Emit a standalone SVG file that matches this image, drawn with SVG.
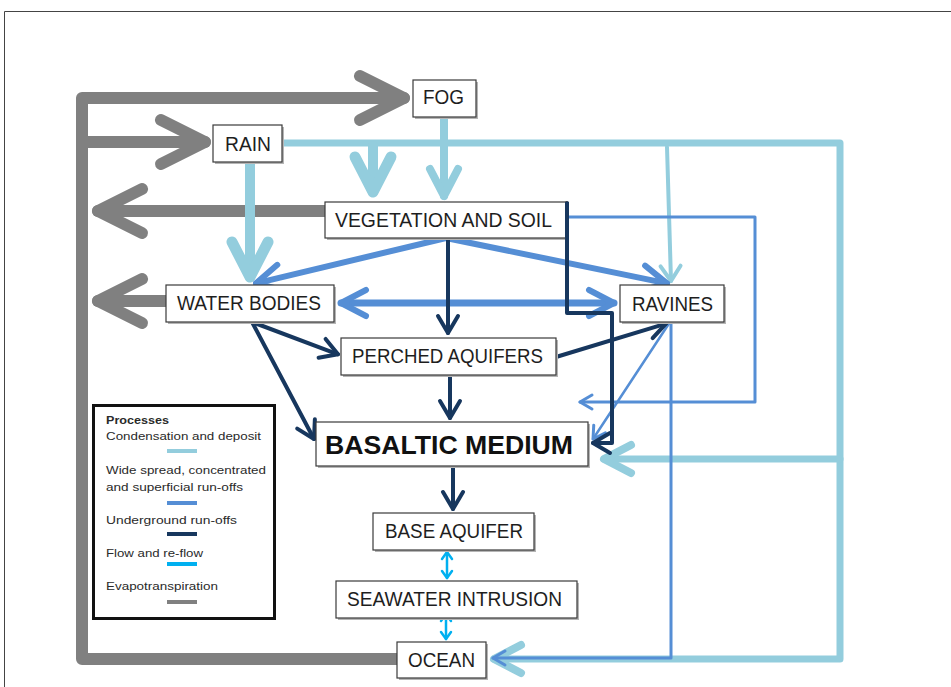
<svg xmlns="http://www.w3.org/2000/svg" width="951" height="687" viewBox="0 0 951 687">
<style>
.box{fill:#fff;stroke:#3a3a3a;stroke-width:1.2}
.sh{fill:#b5b5b5}
.lbl{font-family:"Liberation Sans Narrow","Liberation Sans",Arial,sans-serif;font-size:20px;fill:#1e1e1e}
.big{font-family:"Liberation Sans",Arial,sans-serif;font-size:26px;font-weight:bold;fill:#111}
.leg{font-family:"Liberation Sans Narrow","Liberation Sans",Arial,sans-serif;font-size:11px;fill:#2a2a2a}
.c{fill:none;stroke-linecap:round;stroke-linejoin:round}
.gray{stroke:#808080;stroke-width:12}
.lb{stroke:#93CDDD}
.mb{stroke:#558ED5}
.nv{stroke:#17375E;stroke-width:4}
.cy{stroke:#00B0F0;stroke-width:2.5}
</style>
<defs>
<marker id="mg" markerUnits="userSpaceOnUse" viewBox="-60 -30 70 60" markerWidth="70" markerHeight="60" refX="0" refY="0" orient="auto" overflow="visible"><path d="M-44,-22 L0,0 L-44,22" fill="none" stroke="#808080" stroke-width="12" stroke-linecap="round" stroke-linejoin="round"/></marker>
<marker id="mlb1" markerUnits="userSpaceOnUse" viewBox="-50 -25 60 50" markerWidth="60" markerHeight="50" refX="0" refY="0" orient="auto" overflow="visible"><path d="M-35,-18 L0,0 L-35,18" fill="none" stroke="#93CDDD" stroke-width="11" stroke-linecap="round" stroke-linejoin="round"/></marker>
<marker id="mlb2" markerUnits="userSpaceOnUse" viewBox="-40 -20 50 40" markerWidth="50" markerHeight="40" refX="0" refY="0" orient="auto" overflow="visible"><path d="M-27,-14 L0,0 L-27,14" fill="none" stroke="#93CDDD" stroke-width="8" stroke-linecap="round" stroke-linejoin="round"/></marker>
<marker id="mlb3" markerUnits="userSpaceOnUse" viewBox="-25 -15 30 30" markerWidth="30" markerHeight="30" refX="0" refY="0" orient="auto" overflow="visible"><path d="M-15,-10 L0,0 L-15,10" fill="none" stroke="#93CDDD" stroke-width="4" stroke-linecap="round" stroke-linejoin="round"/></marker>
<marker id="mmb" markerUnits="userSpaceOnUse" viewBox="-35 -20 40 40" markerWidth="40" markerHeight="40" refX="0" refY="0" orient="auto-start-reverse" overflow="visible"><path d="M-25,-13 L0,0 L-25,13" fill="none" stroke="#558ED5" stroke-width="6" stroke-linecap="round" stroke-linejoin="round"/></marker>
<marker id="mmb2" markerUnits="userSpaceOnUse" viewBox="-20 -10 25 20" markerWidth="25" markerHeight="20" refX="0" refY="0" orient="auto" overflow="visible"><path d="M-12,-7 L0,0 L-12,7" fill="none" stroke="#558ED5" stroke-width="3" stroke-linecap="round" stroke-linejoin="round"/></marker>
<marker id="mnv" markerUnits="userSpaceOnUse" viewBox="-25 -15 30 30" markerWidth="30" markerHeight="30" refX="0" refY="0" orient="auto" overflow="visible"><path d="M-17,-10 L0,0 L-17,10" fill="none" stroke="#17375E" stroke-width="4" stroke-linecap="round" stroke-linejoin="round"/></marker>
<marker id="mcy" markerUnits="userSpaceOnUse" viewBox="-12 -8 14 16" markerWidth="14" markerHeight="16" refX="0" refY="0" orient="auto-start-reverse" overflow="visible"><path d="M-7,-5 L0,0 L-7,5" fill="none" stroke="#00B0F0" stroke-width="2.5" stroke-linecap="round" stroke-linejoin="round"/></marker>
</defs>
<rect width="951" height="687" fill="#fff"/>
<path d="M4.5,687 V11.5 H951" fill="none" stroke="#444" stroke-width="1"/>

<g id="connectors">
  <!-- evapotranspiration -->
  <path class="c gray" d="M397,659 H82 V98 H404" marker-end="url(#mg)"/>
  <path class="c gray" d="M82,142 H205" marker-end="url(#mg)"/>
  <path class="c gray" d="M325,211 H98" marker-end="url(#mg)"/>
  <path class="c gray" d="M166,301 H98" marker-end="url(#mg)"/>
  <!-- condensation and deposit -->
  <path class="c lb" stroke-width="7" d="M282,143 H840 V659 H494" marker-end="url(#mlb2)"/>
  <path class="c lb" stroke-width="7" d="M840,459 H604" marker-end="url(#mlb2)"/>
  <path class="c lb" stroke-width="10" d="M373,146 V192" marker-end="url(#mlb1)"/>
  <path class="c lb" stroke-width="10" d="M250,162 V277" marker-end="url(#mlb1)"/>
  <path class="c lb" stroke-width="8" d="M444,117 V196" marker-end="url(#mlb2)"/>
  <path class="c lb" stroke-width="4" d="M667,147 L671,281" marker-end="url(#mlb3)"/>
  <!-- widespread, concentrated and superficial run-offs -->
  <path class="c mb" stroke-width="3" d="M671,322 V658 H493" marker-end="url(#mmb2)"/>
  <path class="c mb" stroke-width="3" d="M567,217 H755 V402 H580" marker-end="url(#mmb2)"/>
  <path class="c mb" stroke-width="2.5" d="M670,322 L593,439" marker-end="url(#mmb2)"/>
  <path class="c mb" stroke-width="6" d="M446,238 L256,283.3" marker-end="url(#mmb)"/>
  <path class="c mb" stroke-width="6" d="M446,238 L667,283.4" marker-end="url(#mmb)"/>
  <path class="c mb" stroke-width="7" d="M341,303 H614" marker-start="url(#mmb)" marker-end="url(#mmb)"/>
  <!-- underground run-offs -->
  <path class="c nv" d="M448,238 V333" marker-end="url(#mnv)"/>
  <path class="c nv" stroke-width="4.5" d="M252,322 L338,354.3" marker-end="url(#mnv)"/>
  <path class="c nv" d="M252,322 L314,439" marker-end="url(#mnv)"/>
  <path class="c nv" d="M450,375 V418" marker-end="url(#mnv)"/>
  <path class="c nv" d="M453,466 V509" marker-end="url(#mnv)"/>
  <path class="c nv" d="M556,357 L666,323.6" marker-end="url(#mnv)"/>
  <path class="c nv" d="M567,203 V313 H612 V443 H593" marker-end="url(#mnv)"/>
  <!-- flow and re-flow -->
  <path class="c cy" d="M447,552 V578" marker-start="url(#mcy)" marker-end="url(#mcy)"/>
  <path class="c cy" d="M446,614 V639" marker-start="url(#mcy)" marker-end="url(#mcy)"/>
</g>

<g id="fog"><rect class="sh" x="415" y="82" width="63" height="37"/><rect class="box" x="413" y="80" width="63" height="37"/><text class="lbl" x="423" y="104" textLength="41" lengthAdjust="spacingAndGlyphs">FOG</text></g>
<g id="rain"><rect class="sh" x="215" y="127" width="69" height="37"/><rect class="box" x="213" y="125" width="69" height="37"/><text class="lbl" x="225" y="151" textLength="46" lengthAdjust="spacingAndGlyphs">RAIN</text></g>
<g id="vegetation"><rect class="sh" x="327" y="204" width="240" height="36"/><rect class="box" x="325" y="202" width="242" height="36"/><line x1="567" y1="202" x2="567" y2="240" stroke="#17375E" stroke-width="4"/><text class="lbl" x="335" y="227" textLength="217" lengthAdjust="spacingAndGlyphs">VEGETATION AND SOIL</text></g>
<g id="water-bodies"><rect class="sh" x="168" y="287" width="168" height="37"/><rect class="box" x="166" y="285" width="168" height="37"/><text class="lbl" x="177" y="310" textLength="144" lengthAdjust="spacingAndGlyphs">WATER BODIES</text></g>
<g id="ravines"><rect class="sh" x="622" y="287" width="104" height="37"/><rect class="box" x="620" y="285" width="104" height="37"/><text class="lbl" x="632" y="311" textLength="81" lengthAdjust="spacingAndGlyphs">RAVINES</text></g>
<g id="perched-aquifers"><rect class="sh" x="343" y="340" width="215" height="37"/><rect class="box" x="341" y="338" width="215" height="37"/><text class="lbl" x="352" y="363" textLength="191" lengthAdjust="spacingAndGlyphs">PERCHED AQUIFERS</text></g>
<g id="basaltic-medium"><rect class="sh" x="318" y="424" width="272" height="44"/><rect class="box" x="316" y="422" width="272" height="44" stroke-width="2" stroke="#222"/><text class="big" x="325" y="454" textLength="248" lengthAdjust="spacingAndGlyphs">BASALTIC MEDIUM</text></g>
<g id="base-aquifer"><rect class="sh" x="375" y="515" width="161" height="37"/><rect class="box" x="373" y="513" width="161" height="37"/><text class="lbl" x="385" y="538" textLength="138" lengthAdjust="spacingAndGlyphs">BASE AQUIFER</text></g>
<g id="seawater-intrusion"><rect class="sh" x="338" y="583" width="241" height="37"/><rect class="box" x="336" y="581" width="241" height="37"/><text class="lbl" x="347" y="606" textLength="215" lengthAdjust="spacingAndGlyphs">SEAWATER INTRUSION</text></g>
<g id="ocean"><rect class="sh" x="399" y="644" width="89" height="36"/><rect class="box" x="397" y="642" width="89" height="36"/><text class="lbl" x="408" y="667" textLength="67" lengthAdjust="spacingAndGlyphs">OCEAN</text></g>

<g id="legend">
  <rect x="93.5" y="405.5" width="181" height="213" fill="#fff" stroke="#111" stroke-width="3"/>
  <text class="leg" x="106" y="424" font-weight="bold" textLength="63" lengthAdjust="spacingAndGlyphs">Processes</text>
  <text class="leg" x="106" y="440" textLength="155" lengthAdjust="spacingAndGlyphs">Condensation and deposit</text>
  <line x1="167" y1="451" x2="197" y2="451" stroke="#93CDDD" stroke-width="4"/>
  <text class="leg" x="106" y="474" textLength="160" lengthAdjust="spacingAndGlyphs">Wide spread, concentrated</text>
  <text class="leg" x="106" y="491" textLength="137" lengthAdjust="spacingAndGlyphs">and superficial run-offs</text>
  <line x1="167" y1="503" x2="197" y2="503" stroke="#558ED5" stroke-width="4"/>
  <text class="leg" x="106" y="524" textLength="131" lengthAdjust="spacingAndGlyphs">Underground run-offs</text>
  <line x1="167" y1="534" x2="197" y2="534" stroke="#17375E" stroke-width="4"/>
  <text class="leg" x="106" y="557" textLength="97" lengthAdjust="spacingAndGlyphs">Flow and re-flow</text>
  <line x1="167" y1="564" x2="197" y2="564" stroke="#00B0F0" stroke-width="4"/>
  <text class="leg" x="106" y="590" textLength="112" lengthAdjust="spacingAndGlyphs">Evapotranspiration</text>
  <line x1="167" y1="602" x2="197" y2="602" stroke="#808080" stroke-width="4"/>
</g>
</svg>
